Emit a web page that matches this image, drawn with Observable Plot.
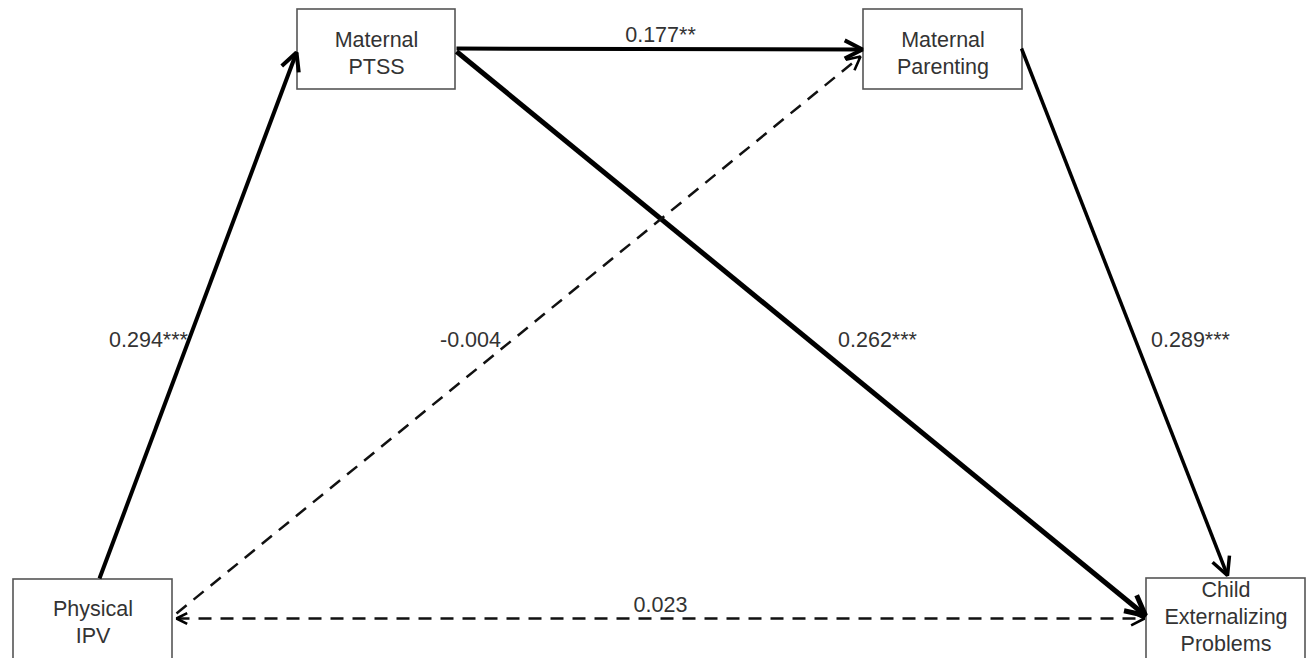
<!DOCTYPE html>
<html>
<head>
<meta charset="utf-8">
<script src="https://cdn.jsdelivr.net/npm/d3@7"></script>
<script src="https://cdn.jsdelivr.net/npm/@observablehq/plot@0.6"></script>
<style>
  html, body { margin: 0; padding: 0; background: #fff; }
  #chart svg { display: block; }
</style>
</head>
<body>
<div id="chart"></div>
<script>
// ---- data ----
const nodeNames = ["Physical\nIPV", "Maternal\nPTSS", "Maternal\nParenting", "Child\nExternalizing\nProblems"];
const edgeFrom = [0, 1, 0, 1, 2, 0];
const edgeTo   = [1, 2, 2, 3, 3, 3];
const edgeCoef = ["0.294***", "0.177**", "-0.004", "0.262***", "0.289***", "0.023"];
const edgeSignificant = [true, true, false, true, true, false];

// ---- layout (diagram coordinates, px) ----
const boxX1 = [13, 297, 863, 1146];
const boxX2 = [172, 455, 1022, 1305];
const boxY1 = [579, 9, 9, 578];
const boxY2 = [662, 89, 89, 662];
const textY = [620, 51, 51, 615];
const edgeStart = [[99, 578], [456, 48], [176, 613], [456, 51], [1021, 48], [176, 618]];
const edgeEnd   = [[296, 52], [862, 49], [860, 56], [1145, 615], [1227, 575], [1144, 618]];
const labelPos  = [[148, 340], [660, 35], [470, 340], [877, 340], [1190, 340], [660, 605]];
const edgeWidth = [4, 4, 2.5, 5, 3.5, 2.5];
const headSize  = [20, 20, 15, 22, 20, 15];
const startHead = [false, false, false, false, false, true];

const nodes = nodeNames.map((name, i) => ({
  name, x1: boxX1[i], x2: boxX2[i], y1: boxY1[i], y2: boxY2[i],
  cx: (boxX1[i] + boxX2[i]) / 2, cy: textY[i]
}));
const edges = edgeCoef.map((coef, i) => ({
  id: i, from: nodeNames[edgeFrom[i]], to: nodeNames[edgeTo[i]], coef,
  sig: edgeSignificant[i],
  x1: edgeStart[i][0], y1: edgeStart[i][1], x2: edgeEnd[i][0], y2: edgeEnd[i][1],
  lx: labelPos[i][0], ly: labelPos[i][1], w: edgeWidth[i], hs: headSize[i], startHead: startHead[i]
}));

// arrowhead wing polylines derived from the edges
const ANG = 27 * Math.PI / 180;
const heads = [];
function addHead(key, tx, ty, fx, fy, h, w) {
  const a = Math.atan2(fy - ty, fx - tx);
  heads.push({key, x: tx + h * Math.cos(a + ANG), y: ty + h * Math.sin(a + ANG), w});
  heads.push({key, x: tx, y: ty, w});
  heads.push({key, x: tx + h * Math.cos(a - ANG), y: ty + h * Math.sin(a - ANG), w});
}
for (const e of edges) {
  addHead("end" + e.id, e.x2, e.y2, e.x1, e.y1, e.hs, e.sig ? e.w : 2.6);
  if (e.startHead) addHead("start" + e.id, e.x1, e.y1, e.x2, e.y2, e.hs * 0.8, 2.6);
}

const W = 1313, H = 658;
const font = "'Liberation Sans', Arial, sans-serif";

const chart = Plot.plot({
  width: W, height: H,
  margin: 0,
  x: {domain: [0, W], range: [0, W], axis: null},
  y: {domain: [0, H], range: [0, H], axis: null},
  style: {background: "#fff", fontFamily: font},
  marks: [
    Plot.rect(nodes, {x1: "x1", x2: "x2", y1: "y1", y2: "y2", fill: "#fff", stroke: "#555", strokeWidth: 1.6}),
    Plot.link(edges.filter(d => d.sig), {
      x1: "x1", y1: "y1", x2: "x2", y2: "y2",
      stroke: "#000", strokeWidth: "w"
    }),
    Plot.link(edges.filter(d => !d.sig), {
      x1: "x1", y1: "y1", x2: "x2", y2: "y2",
      stroke: "#111", strokeWidth: "w", strokeDasharray: "13,9"
    }),
    Plot.line(heads, {
      x: "x", y: "y", z: "key", stroke: "#000", strokeWidth: "w",
      strokeLinejoin: "miter", strokeLinecap: "butt", curve: "linear"
    }),
    Plot.text(nodes, {
      x: "cx", y: "cy", text: "name", fontSize: 21.5, lineHeight: 1.25,
      fill: "#333", textAnchor: "middle", frameAnchor: "middle"
    }),
    Plot.text(edges, {
      x: "lx", y: "ly", text: "coef", fontSize: 21.5, fill: "#333", textAnchor: "middle"
    })
  ]
});
document.getElementById("chart").appendChild(chart);
</script>
</body>
</html>
